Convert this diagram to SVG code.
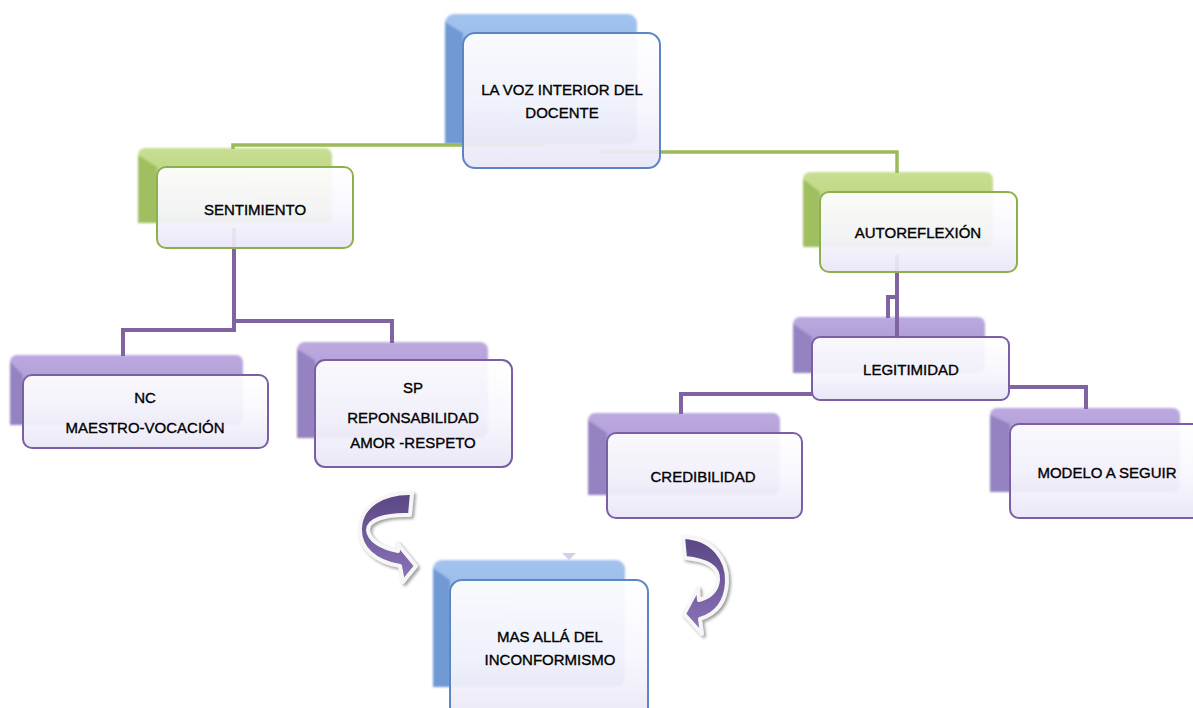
<svg xmlns="http://www.w3.org/2000/svg" width="1193" height="708" viewBox="0 0 1193 708">
  <defs>
    <linearGradient id="gFront" x1="0" y1="0" x2="0" y2="1">
      <stop offset="0" stop-color="#ffffff"/>
      <stop offset="0.55" stop-color="#f7f6fd"/>
      <stop offset="1" stop-color="#e9e6f6"/>
    </linearGradient>
    <linearGradient id="gBlue" x1="0" y1="0" x2="0" y2="1">
      <stop offset="0" stop-color="#a3c3ee"/>
      <stop offset="1" stop-color="#82a8e0"/>
    </linearGradient>
    <linearGradient id="gGreen" x1="0" y1="0" x2="0" y2="1">
      <stop offset="0" stop-color="#c8df92"/>
      <stop offset="1" stop-color="#abc86a"/>
    </linearGradient>
    <linearGradient id="gPurple" x1="0" y1="0" x2="0" y2="1">
      <stop offset="0" stop-color="#bba9df"/>
      <stop offset="1" stop-color="#a08ecb"/>
    </linearGradient>
    <linearGradient id="gArrow" x1="0" y1="0" x2="0" y2="1">
      <stop offset="0" stop-color="#5a4683"/>
      <stop offset="1" stop-color="#8c74ba"/>
    </linearGradient>
    <filter id="soft" x="-10%" y="-10%" width="120%" height="120%">
      <feGaussianBlur stdDeviation="1.2"/>
    </filter>
    <filter id="shadow" x="-30%" y="-30%" width="160%" height="160%">
      <feDropShadow dx="2" dy="2" stdDeviation="1.5" flood-color="#8f8f8f" flood-opacity="0.85"/>
    </filter>
  </defs>
  <style>
    text { font-family: "Liberation Sans", Arial, sans-serif; font-size: 15px; fill: #000000; stroke: #000000; stroke-width: 0.35; text-anchor: middle; }
    .front { fill: url(#gFront); fill-opacity: 0.93; stroke-width: 2; }
    .fb { stroke: #5b86c4; }
    .fg { stroke: #8db04e; }
    .fp { stroke: #7a5fa6; }
    .bb { fill: url(#gBlue); }
    .bg { fill: url(#gGreen); }
    .bp { fill: url(#gPurple); }
    .lb { fill: #7199d4; }
    .lg { fill: #a0bf60; }
    .lp { fill: #9582c0; }
    .cg { fill: none; stroke: #9bbb59; stroke-width: 3.5; }
    .cp { fill: none; stroke: #8064a2; stroke-width: 4; }
    .arrow { fill: url(#gArrow); stroke: #f6f6f6; stroke-width: 4; stroke-linejoin: round; filter: url(#shadow); }
  </style>

  <rect width="1193" height="708" fill="#ffffff"/>

  <!-- back plates -->
  <g id="backs" filter="url(#soft)">
    <rect class="bb" x="445" y="14" width="192" height="130" rx="9"/>
    <polygon class="lb" points="445,22 463,33 463,144 445,144"/>
    <rect class="bg" x="138" y="148" width="194" height="75" rx="7"/>
    <polygon class="lg" points="138,155 157,167 157,223 138,223"/>
    <rect class="bg" x="803" y="172" width="190" height="75" rx="7"/>
    <polygon class="lg" points="803,179 820,192 820,247 803,247"/>
    <rect class="bp" x="10" y="355" width="233" height="70" rx="7"/>
    <polygon class="lp" points="10,362 23,375 23,425 10,425"/>
    <rect class="bp" x="297" y="342" width="191" height="96" rx="8"/>
    <polygon class="lp" points="297,349 315,360 315,438 297,438"/>
    <rect class="bp" x="793" y="317" width="192" height="56" rx="7"/>
    <polygon class="lp" points="793,324 812,337 812,373 793,373"/>
    <rect class="bp" x="588" y="413" width="192" height="82" rx="7"/>
    <polygon class="lp" points="588,420 607,433 607,495 588,495"/>
    <rect class="bp" x="990" y="408" width="190" height="84" rx="7"/>
    <polygon class="lp" points="990,415 1010,424 1010,492 990,492"/>
    <rect class="bb" x="433" y="560" width="192" height="127" rx="9"/>
    <polygon class="lb" points="433,568 450,580 450,687 433,687"/>
  </g>

  <!-- connectors -->
  <g id="connectors">
    <path class="cg" d="M545,145 H233 V149"/>
    <path class="cg" d="M600,152 H897 V173"/>
    <path class="cp" d="M234,228 V321 H392 V343"/>
    <path class="cp" d="M234,321 V330 H123 V356"/>
    <path class="cp" d="M897,255 V340"/>
    <path class="cp" d="M897,297 H888 V318"/>
    <path class="cp" d="M812,394 H681 V414"/>
    <path class="cp" d="M1009,387 H1086 V409"/>
    <polygon points="562,553 576,553 569,560" fill="#c9bfe2" opacity="0.75"/>
  </g>

  <g id="arrows">
    <path class="arrow" d="M412,493 C383,492 361,506 360,528 C359,548 375,562 400,566 L403,582 L416,566 L397,543 L398,551 C381,548 369,540 368,530 C368,520 385,514 410,515 Z"/>
    <path class="arrow" d="M683,537 C713,538 728,560 727,582 C726,602 716,614 700,619 L702,634 L684,614 L698,588 L699,600 C710,597 717,590 718,580 C719,568 708,560 685,558 Z"/>
  </g>

  <g id="node-voz">
    <rect class="front fb" x="463" y="33" width="197" height="135" rx="12"/>
    <text x="562" y="95">LA VOZ INTERIOR DEL</text>
    <text x="562" y="118">DOCENTE</text>
  </g>

  <g id="node-sentimiento">
    <rect class="front fg" x="157" y="167" width="196" height="81" rx="9"/>
    <text x="255" y="215">SENTIMIENTO</text>
  </g>

  <g id="node-autoreflexion">
    <rect class="front fg" x="820" y="192" width="197" height="80" rx="9"/>
    <text x="918" y="238">AUTOREFLEXIÓN</text>
  </g>

  <g id="node-nc">
    <rect class="front fp" x="23" y="375" width="245" height="73" rx="9"/>
    <text x="145" y="403">NC</text>
    <text x="145" y="433">MAESTRO-VOCACIÓN</text>
  </g>

  <g id="node-sp">
    <rect class="front fp" x="315" y="360" width="197" height="107" rx="10"/>
    <text x="413" y="393">SP</text>
    <text x="413" y="423">REPONSABILIDAD</text>
    <text x="413" y="448">AMOR -RESPETO</text>
  </g>

  <g id="node-legitimidad">
    <rect class="front fp" x="812" y="337" width="197" height="63" rx="8"/>
    <text x="911" y="375">LEGITIMIDAD</text>
  </g>

  <g id="node-credibilidad">
    <rect class="front fp" x="607" y="433" width="195" height="85" rx="9"/>
    <text x="703" y="482">CREDIBILIDAD</text>
  </g>

  <g id="node-modelo">
    <rect class="front fp" x="1010" y="424" width="200" height="94" rx="9"/>
    <text x="1107" y="478">MODELO A SEGUIR</text>
  </g>

  <g id="node-inconformismo">
    <rect class="front fb" x="450" y="580" width="198" height="140" rx="12"/>
    <text x="550" y="642">MAS ALLÁ DEL</text>
    <text x="550" y="665">INCONFORMISMO</text>
  </g>
</svg>
